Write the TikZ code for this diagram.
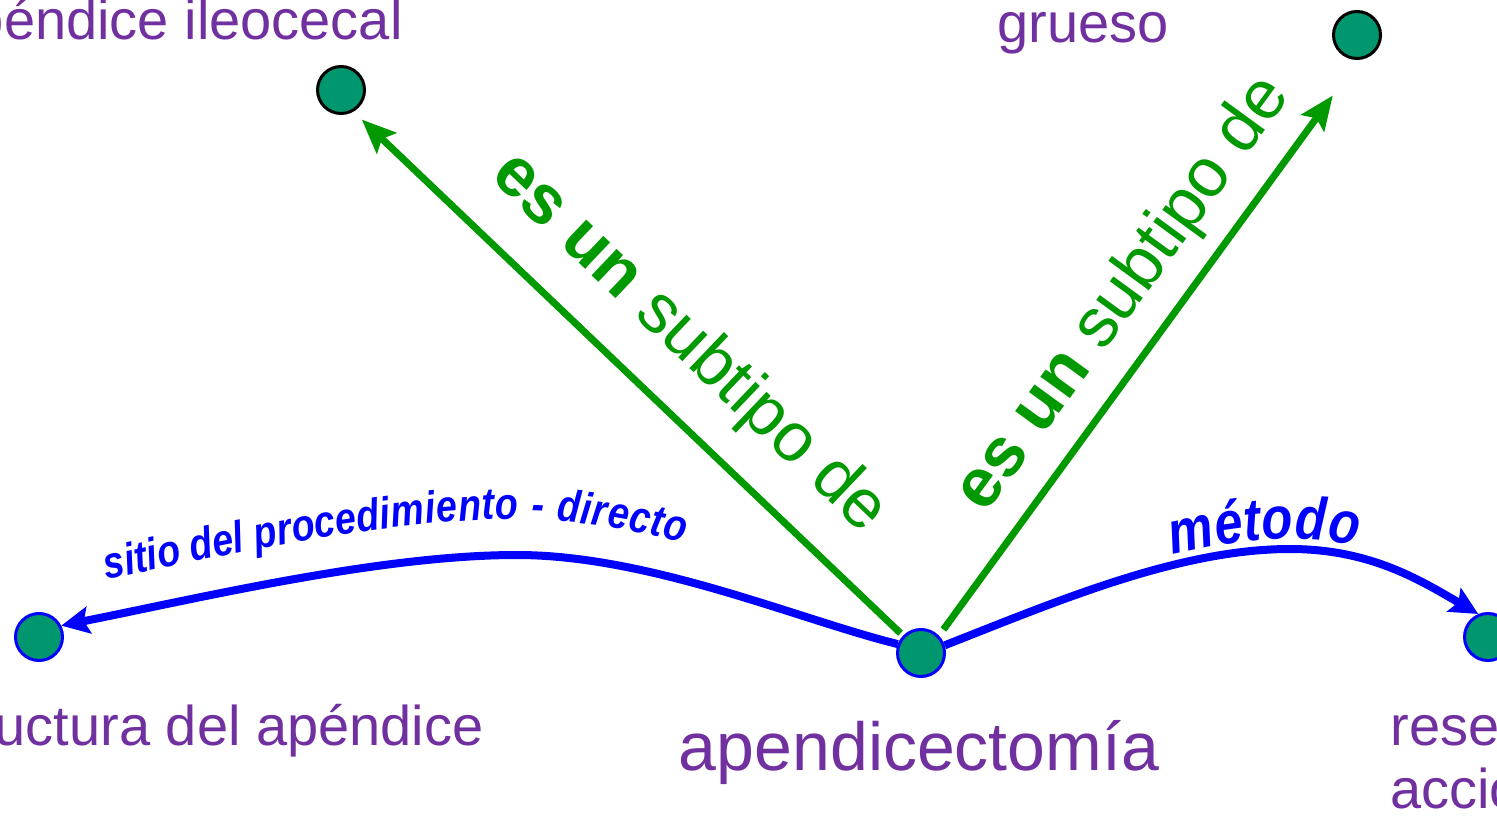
\documentclass[tikz,border=0pt]{standalone}
\usepackage{fontspec}
\setmainfont{Liberation Sans}
\newfontfamily\relfont[FakeStretch=0.84]{Liberation Sans}
\usetikzlibrary{arrows.meta,decorations.text}
\definecolor{conceptfill}{HTML}{00966E}
\definecolor{labelpurple}{HTML}{7030A0}
\definecolor{isagreen}{HTML}{009900}
\definecolor{attrblue}{HTML}{0000FF}
\tikzset{
	concept/.style={circle, fill=conceptfill, draw=#1, line width=1.5pt, minimum size=23.5pt, inner sep=0pt},
	conceptlbl/.style={text=labelpurple, inner sep=0pt, font=\fontsize{28}{31.5}\selectfont},
	isalink/.style={draw=isagreen, line width=3.5pt, -{Stealth[length=17pt,width=14pt,inset=3pt]}},
	isalbl/.style={text=isagreen, sloped, inner sep=0pt, font=\fontsize{34.5}{38}\selectfont},
	attrlink/.style={draw=attrblue, line width=4pt},
	attrtip/.tip={Stealth[length=14pt,width=13.5pt,inset=2.5pt]},
}

\begin{document}
\begin{tikzpicture}[x=0.5pt,y=0.5pt]
	% Fixed white canvas, cut at the frame like the original view.
	\path[use as bounding box] (0,0) rectangle (1497,815);
	\fill[white] (0,0) rectangle (1497,815);
	\clip (0,0) rectangle (1497,815);

	% Concept dots.
	\node[concept=black] (appileo) at (341,725) {};
	\node[concept=black] (grueso) at (1357,780) {};
	\node[concept=attrblue] (apendic) at (921,162) {};
	\node[concept=attrblue] (estruct) at (39,178) {};
	\node[concept=attrblue] (resecc) at (1488,178) {};

	% Concept names.
	\node[conceptlbl, anchor=base east] (appileolbl) at (403,775) {apéndice ileocecal};
	\node[conceptlbl, anchor=base west] (gruesolbl) at (997,772) {grueso};
	\node[conceptlbl, anchor=base, font=\fontsize{34}{38}\selectfont] (apendiclbl) at (919,45)
		{apendicectomía};
	\node[conceptlbl, anchor=base east] (estructlbl) at (484,70) {estructura del apéndice};
	\node[conceptlbl, anchor=base west, align=left] (resecclbl) at (1390,7)
		{resección -\\acción};

	% Is-a links to the parent concepts.
	\draw[isalink, shorten <=1.75pt, shorten >=5.7pt] (apendic.136) -- (appileo.-60)
		node[isalbl, above=14pt, pos=.47] (isalblone) {\textbf{es un} subtipo de};
	\draw[isalink, shorten <=3.75pt, shorten >=22pt] (apendic.44) -- (grueso.274)
		node[isalbl, above=8pt, pos=.54] (isalbltwo) {\textbf{es un} subtipo de};

	% Attribute links, label written along the curve.
	\draw[attrlink, {attrtip}-,
		postaction={decorate, decoration={text along path, raise=18pt,
			text align={left indent=27pt},
			text={|\relfont\bfseries\itshape\fontsize{22.3}{26}\selectfont\color{attrblue}|sitio del procedimiento - directo}}}]
		(estruct.27) .. controls (200,217) and (380,260) .. (517,260)
		.. controls (650,260) and (800,195) .. (apendic.159);
	\draw[attrlink, -{attrtip},
		postaction={decorate, decoration={text along path, raise=5pt,
			text align={left indent=122pt},
			text={|\relfont\bfseries\itshape\fontsize{30}{34}\selectfont\color{attrblue}|método}}}]
		(apendic.18) .. controls (1060,215) and (1180,266) .. (1290,266)
		.. controls (1370,266) and (1420,235) .. (resecc.113);
\end{tikzpicture}
\end{document}
